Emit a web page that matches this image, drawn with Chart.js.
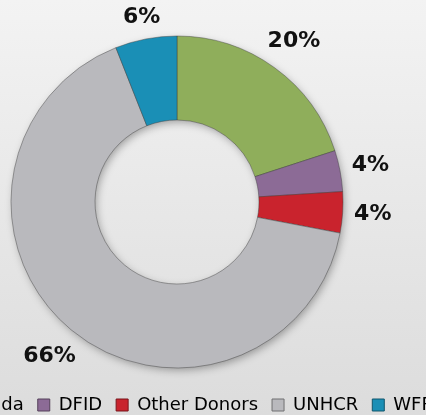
<!DOCTYPE html>
<html>
<head>
<meta charset="utf-8">
<script src="https://cdn.jsdelivr.net/npm/chart.js@4.4.1/dist/chart.umd.min.js"></script>
<style>
html,body{margin:0;padding:0;width:426px;height:415px;overflow:hidden;
  background:linear-gradient(#f3f3f3,#dcdcdc);}
#wrap{position:absolute;left:-75px;top:0;width:600px;height:430px;}
</style>
</head>
<body>
<div id="wrap"><canvas id="c" width="600" height="430"></canvas></div>
<script>
const categories = ["Danida", "DFID", "Other Donors", "UNHCR", "WFP"];
const shares = [20, 4, 4, 66, 6];
const sliceColors = ["#8fae5b", "#8c6b96", "#c9232d", "#b9b9bd", "#1a8fb6"];

function shade(hex, f) {
  const n = parseInt(hex.slice(1), 16);
  let r = n >> 16, g = (n >> 8) & 255, b = n & 255;
  const t = f < 0 ? 0 : 255, p = Math.abs(f);
  r = Math.round((t - r) * p + r); g = Math.round((t - g) * p + g); b = Math.round((t - b) * p + b);
  return `rgb(${r},${g},${b})`;
}

function bevel(ctx) {
  const chart = ctx.chart;
  const base = sliceColors[ctx.dataIndex];
  const arc = chart.getDatasetMeta(0).data[ctx.dataIndex];
  if (!arc || !arc.outerRadius) return base;
  const g = chart.ctx.createRadialGradient(arc.x, arc.y, arc.innerRadius, arc.x, arc.y, arc.outerRadius);
  g.addColorStop(0, shade(base, -0.35));
  g.addColorStop(0.04, shade(base, 0.55));
  g.addColorStop(0.16, base);
  g.addColorStop(0.86, base);
  g.addColorStop(0.96, shade(base, -0.12));
  g.addColorStop(1, shade(base, -0.4));
  return g;
}

const ringShadow = {
  id: 'ringShadow',
  beforeDatasetsDraw(chart) {
    const arc = chart.getDatasetMeta(0).data[0];
    if (!arc) return;
    const c = chart.ctx;
    c.save();
    c.shadowColor = 'rgba(0,0,0,0.35)';
    c.shadowBlur = 8;
    c.shadowOffsetX = 2;
    c.shadowOffsetY = 3;
    c.beginPath();
    c.arc(arc.x, arc.y, arc.outerRadius - 1, 0, Math.PI * 2);
    c.arc(arc.x, arc.y, arc.innerRadius + 1, 0, Math.PI * 2, true);
    c.fillStyle = '#bbb';
    c.fill('evenodd');
    c.restore();
  }
};

const pctLabels = {
  id: 'pctLabels',
  afterDatasetsDraw(chart) {
    const meta = chart.getDatasetMeta(0);
    const c = chart.ctx;
    const total = shares.reduce((a, b) => a + b, 0);
    c.save();
    c.font = 'bold 22px "DejaVu Sans"';
    c.fillStyle = '#111';
    c.textAlign = 'center';
    c.textBaseline = 'middle';
    meta.data.forEach((arc, i) => {
      const mid = (arc.startAngle + arc.endAngle) / 2;
      const ux = Math.cos(mid), uy = Math.sin(mid);
      const txt = Math.round(shares[i] / total * 100) + '%';
      const w = c.measureText(txt).width, h = 16;
      const ext = (Math.abs(ux) * w + Math.abs(uy) * h) / 2;
      const d = arc.outerRadius + 11 + ext;
      c.fillText(txt, arc.x + ux * d, arc.y + uy * d);
    });
    c.restore();
  }
};

new Chart(document.getElementById('c'), {
  type: 'doughnut',
  data: {
    labels: categories,
    datasets: [{
      data: shares,
      backgroundColor: bevel,
      borderColor: 'rgba(60,60,60,0.55)',
      borderWidth: 0.8,
      radius: 166,
      cutout: '49.4%'
    }]
  },
  options: {
    responsive: false,
    devicePixelRatio: 1,
    animation: false,
    layout: { padding: { left: 0, right: 0, top: 22, bottom: 6 } },
    plugins: {
      tooltip: { enabled: false },
      title: {
        display: true,
        position: 'right',
        fullSize: false,
        text: ' ',
        font: { size: 10 },
        padding: { top: 42, bottom: 42 }
      },
      legend: {
        position: 'bottom',
        align: 'start',
        labels: {
          color: '#111',
          font: { family: 'DejaVu Sans', size: 18 },
          boxWidth: 12,
          boxHeight: 12,
          padding: 14,
          generateLabels(chart) {
            return categories.map((cat, i) => ({
              text: cat,
              fillStyle: sliceColors[i],
              strokeStyle: shade(sliceColors[i], -0.4),
              lineWidth: 1,
              index: i
            }));
          }
        }
      }
    }
  },
  plugins: [ringShadow, pctLabels]
});
</script>
</body>
</html>
